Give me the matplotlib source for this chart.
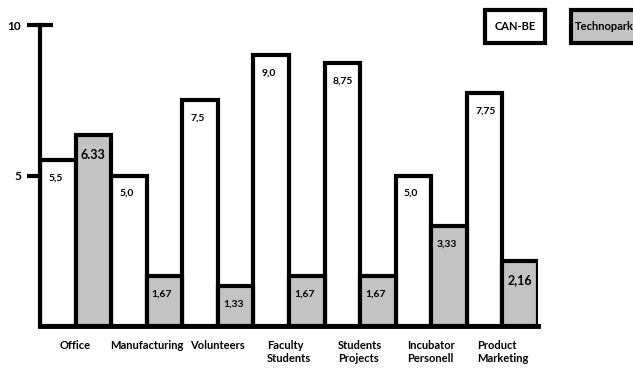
import numpy as np
from matplotlib import pyplot as plt
from matplotlib.patches import Rectangle

categories = ["Office", "Manufacturing", "Volunteers", "Faculty\nStudents",
              "Students\nProjects", "Incubator\nPersonell", "Product\nMarketing"]
canbe = [5.5, 5.0, 7.5, 9.0, 8.75, 5.0, 7.75]
technopark = [6.33, 1.67, 1.33, 1.67, 1.67, 3.33, 2.16]
canbe_labels = ["5,5", "5,0", "7,5", "9,0", "8,75", "5,0", "7,75"]
techno_labels = ["6.33", "1,67", "1,33", "1,67", "1,67", "3,33", "2,16"]

W, H = 633, 368
fig = plt.figure(figsize=(W / 100, H / 100), dpi=100)
ax = fig.add_axes([40 / W, 1 - 326 / H, 498 / W, 301 / H])

FONT = "Lato"
GRAY = "#c3c3c3"

xc = np.arange(len(categories)) * 2
ax.bar(xc, canbe, width=1, color="white", edgecolor="black", linewidth=3, zorder=2)
ax.bar(xc + 1, technopark, width=1, color=GRAY, edgecolor="black", linewidth=3, zorder=2)

for i in range(len(categories)):
    ax.text(xc[i] - 0.27, canbe[i] - 0.45, canbe_labels[i], ha="left", va="top",
            fontsize=7.5, fontweight="bold", family=FONT)
    fs = 9 if techno_labels[i] in ("6.33", "2,16") else 7.5
    ax.text(xc[i] + 1 - 0.36, technopark[i] - 0.45, techno_labels[i], ha="left", va="top",
            fontsize=fs, fontweight="bold", family=FONT)

ax.set_xlim(-0.5, 13.5)
ax.set_ylim(0, 10)
for s in ["top", "right"]:
    ax.spines[s].set_visible(False)
ax.spines["left"].set_linewidth(3)
ax.spines["bottom"].set_linewidth(3.5)

ax.set_yticks([5, 10])
ax.set_yticklabels(["5", "10"], fontsize=8.5, fontweight="bold", family=FONT)
ax.tick_params(axis="y", direction="inout", length=19, width=3, pad=4)

ax.set_xticks(xc + 0.5)
ax.set_xticklabels(categories, fontsize=8, fontweight="bold", family=FONT,
                   multialignment="left")
ax.tick_params(axis="x", length=0, pad=10)

# legend boxes
fig.patches.append(Rectangle((485 / W, 1 - 43 / H), 60 / W, 33 / H, transform=fig.transFigure,
                             facecolor="white", edgecolor="black", linewidth=3))
fig.text(515 / W, 1 - 27 / H, "CAN-BE", ha="center", va="center",
         fontsize=8, fontweight="bold", family=FONT)
fig.patches.append(Rectangle((571 / W, 1 - 43 / H), 80 / W, 33 / H, transform=fig.transFigure,
                             facecolor=GRAY, edgecolor="black", linewidth=3))
fig.text(575 / W, 1 - 27 / H, "Technopark", ha="left", va="center",
         fontsize=8, fontweight="bold", family=FONT)

fig.savefig("out.png", dpi=100)
